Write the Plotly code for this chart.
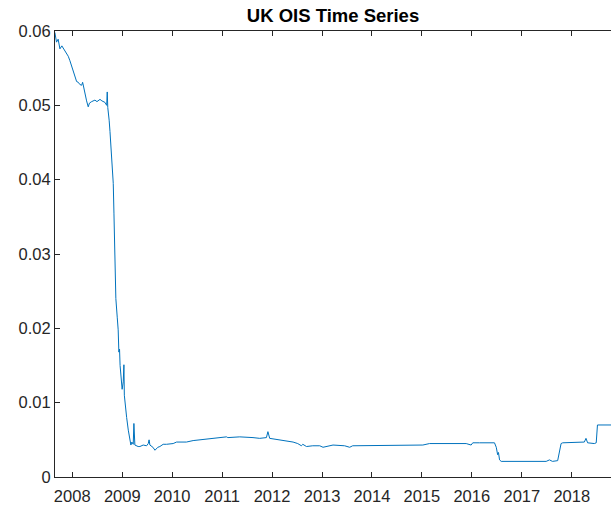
import plotly.graph_objects as go

dates = [
    "2007-08-27", "2007-09-08", "2007-09-20", "2007-10-03", "2007-10-17", "2007-11-08",
    "2007-12-03", "2007-12-15", "2007-12-28", "2008-01-08", "2008-01-20", "2008-02-02",
    "2008-02-14", "2008-02-26", "2008-03-10", "2008-03-17", "2008-03-23", "2008-04-03",
    "2008-04-15", "2008-04-27", "2008-05-06", "2008-05-22", "2008-06-15", "2008-06-30",
    "2008-07-22", "2008-08-05", "2008-08-27", "2008-09-09", "2008-09-13", "2008-09-17",
    "2008-09-20", "2008-09-27", "2008-10-03", "2008-10-08", "2008-10-15", "2008-10-27",
    "2008-11-01", "2008-11-08", "2008-11-15", "2008-11-25", "2008-12-02", "2008-12-07",
    "2008-12-12", "2008-12-16", "2008-12-21", "2008-12-31", "2009-01-08", "2009-01-13",
    "2009-01-16", "2009-01-20", "2009-02-02", "2009-02-14", "2009-02-26", "2009-03-05",
    "2009-03-12", "2009-03-22", "2009-03-27", "2009-04-03", "2009-04-27", "2009-05-10",
    "2009-06-03", "2009-06-28", "2009-07-10", "2009-07-16", "2009-07-22", "2009-08-13",
    "2009-08-28", "2009-09-09", "2009-09-18", "2009-10-03", "2009-10-27", "2009-11-21",
    "2010-01-08", "2010-02-02", "2010-04-15", "2010-06-03", "2010-07-22", "2010-10-03",
    "2010-11-21", "2011-02-02", "2011-02-12", "2011-05-10", "2011-08-15", "2011-10-03",
    "2011-11-21", "2011-12-02", "2011-12-15", "2012-02-26", "2012-04-25", "2012-06-03",
    "2012-07-07", "2012-08-03", "2012-08-13", "2012-09-09", "2012-10-25", "2012-12-15",
    "2013-01-08", "2013-03-22", "2013-06-15", "2013-07-22", "2013-08-13", "2013-11-21",
    "2014-03-22", "2014-07-22", "2015-01-08", "2015-02-26", "2015-07-22", "2015-11-21",
    "2015-12-27", "2016-01-08", "2016-02-26", "2016-06-03", "2016-06-15", "2016-06-28",
    "2016-07-03", "2016-07-08", "2016-07-14", "2016-07-22", "2016-08-03", "2016-10-27",
    "2016-12-15", "2017-02-26", "2017-06-28", "2017-07-22", "2017-08-13", "2017-09-20",
    "2017-10-15", "2017-10-27", "2018-02-26", "2018-04-03", "2018-04-15", "2018-04-27",
    "2018-06-15", "2018-06-29", "2018-07-08", "2018-08-03", "2018-10-15",
]
ois_rate = [
    0.0598, 0.0585, 0.0589, 0.0576, 0.0580, 0.0573,
    0.0566, 0.0560, 0.0553, 0.0546, 0.0542, 0.0532,
    0.0531, 0.0528, 0.0527, 0.0531, 0.0526, 0.0515,
    0.0506, 0.0498, 0.0503, 0.0505, 0.0507, 0.0505,
    0.0508, 0.0506, 0.0504, 0.0500, 0.0518, 0.0497,
    0.0487, 0.0480, 0.0465, 0.0450, 0.0430, 0.0395,
    0.0355, 0.0300, 0.0240, 0.0215, 0.0198, 0.0168,
    0.0172, 0.0150, 0.0140, 0.0118, 0.0128, 0.0151,
    0.0110, 0.0100, 0.0080, 0.0063, 0.0048, 0.0043,
    0.0047, 0.0044, 0.0072, 0.0043, 0.0041, 0.0041,
    0.0043, 0.0042, 0.0045, 0.0050, 0.0043, 0.0040,
    0.0036, 0.0038, 0.0040, 0.0041, 0.0044, 0.0044,
    0.0045, 0.0047, 0.0047, 0.0049, 0.0050, 0.0051,
    0.0052, 0.0054, 0.0053, 0.0054, 0.0053, 0.0052,
    0.0053, 0.0061, 0.0052, 0.0050, 0.0048, 0.0047,
    0.0045, 0.0042, 0.0044, 0.0041, 0.0042, 0.0042,
    0.0040, 0.0043, 0.0042, 0.0040, 0.0042, 0.0042,
    0.0042, 0.0043, 0.0043, 0.0045, 0.0045, 0.0045,
    0.0043, 0.0046, 0.0046, 0.0046, 0.0046, 0.0040,
    0.0036, 0.0030, 0.0033, 0.0023, 0.0021, 0.0021,
    0.0020, 0.0020, 0.0021, 0.0023, 0.0021, 0.0022,
    0.0045, 0.0046, 0.0046, 0.0047, 0.0052, 0.0046,
    0.0045, 0.0046, 0.0070, 0.0070, 0.0070,
]

x_tick_vals = ["2008-01-01", "2009-01-01", "2010-01-01", "2011-01-01", "2012-01-01",
               "2013-01-01", "2014-01-01", "2015-01-01", "2016-01-01", "2017-01-01",
               "2018-01-01"]
x_tick_text = ["2008", "2009", "2010", "2011", "2012", "2013", "2014", "2015", "2016",
               "2017", "2018"]
y_tick_vals = [0, 0.01, 0.02, 0.03, 0.04, 0.05, 0.06]
y_tick_text = ["0", "0.01", "0.02", "0.03", "0.04", "0.05", "0.06"]

axis_color = "#262626"
font_family = "Liberation Sans, Arial, Helvetica, sans-serif"

fig = go.Figure()
fig.add_trace(go.Scatter(
    x=dates, y=ois_rate, mode="lines",
    line=dict(color="#0072BD", width=1),
    showlegend=False, hoverinfo="skip",
))

fig.update_layout(
    width=611, height=508,
    margin=dict(l=55, r=0, t=31, b=31),
    paper_bgcolor="white", plot_bgcolor="white",
    font=dict(family=font_family, size=16.5, color=axis_color),
    title=dict(
        text="<b>UK OIS Time Series</b>",
        x=333 / 611, xanchor="center",
        y=1 - 16 / 508, yanchor="middle", yref="container",
        font=dict(family=font_family, size=18.5, color="#000000"),
    ),
    xaxis=dict(
        type="date",
        range=["2007-08-28", "2018-10-15"],
        tickvals=x_tick_vals, ticktext=x_tick_text,
        ticks="inside", ticklen=5, tickwidth=1, tickcolor=axis_color,
        ticklabelstandoff=4,
        showline=True, linecolor=axis_color, linewidth=1, mirror="ticks",
        showgrid=False, zeroline=False,
    ),
    yaxis=dict(
        range=[0, 0.06],
        tickvals=y_tick_vals, ticktext=y_tick_text,
        ticks="inside", ticklen=5, tickwidth=1, tickcolor=axis_color,
        showline=True, linecolor=axis_color, linewidth=1,
        showgrid=False, zeroline=False,
    ),
)

fig.write_html(
    "out.html",
    config={"displayModeBar": False},
    post_script="document.body.style.margin='0';document.body.style.overflow='hidden';",
)
